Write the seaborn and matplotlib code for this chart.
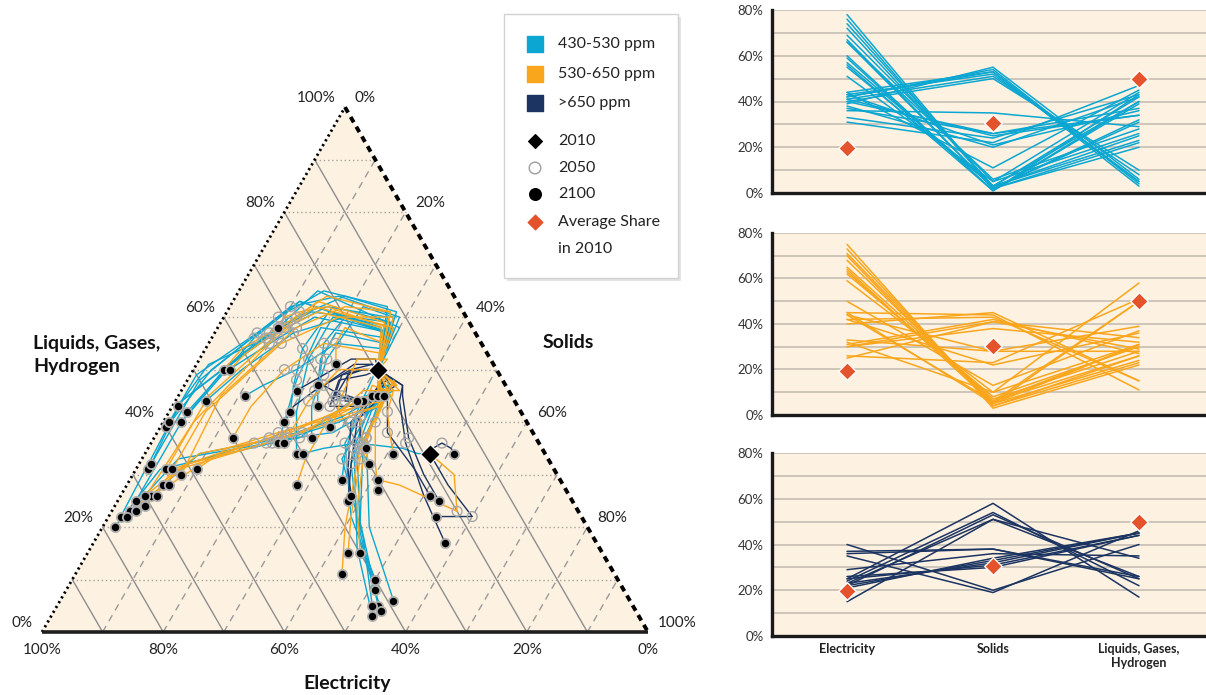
import numpy as np
import pandas as pd
import matplotlib
matplotlib.use("Agg")
import matplotlib.pyplot as plt
from matplotlib.patches import Polygon, Rectangle
import seaborn as sns

sns.set_style("white")
plt.rcParams["font.family"] = ["Lato", "DejaVu Sans"]

# ---------------------------------------------------------------- data
# shares in percent; solids = 100 - electricity - liquids
categories = ["Electricity", "Solids", "Liquids, Gases,\nHydrogen"]
avg_share_2010 = [19.5, 30.5, 50.0]

# two 2010 starting mixes (electricity, liquids)
base_2010_elec = [19.5, 19.0]
base_2010_liq = [50.0, 34.0]

# 430-530 ppm scenarios
blue_origin = [0] * 23 + [1] + [0] * 6
blue_2020_elec = [22, 12, 21, 14, 23, 11, 13, 22, 12, 15, 11, 13, 14, 13, 17, 19, 21, 18, 20, 19, 18, 21, 14, 21, 12, 16, 15, 19, 15, 13]
blue_2020_liq = [44, 58, 46, 57, 43, 60, 59, 45, 62, 58, 61, 60, 57, 58, 54, 46, 45, 48, 45, 47, 47, 45, 57, 34, 60, 55, 57, 50, 56, 59]
blue_2030_elec = [31, 22, 27, 26, 33, 19, 25, 30, 21, 26, 18, 22, 25, 20, 24, 21, 25, 18, 23, 22, 20, 24, 22, 23, 16, 23, 20, 18, 25, 21]
blue_2030_liq = [40, 65, 44, 63, 38, 64, 61, 41, 65, 63, 64, 62, 60, 60, 55, 45, 42, 48, 44, 46, 47, 44, 60, 35, 62, 57, 60, 52, 58, 62]
blue_2050_elec = [44, 32, 39, 37, 47, 28, 34, 42, 31, 36, 28, 35, 33, 30, 33, 31, 34, 29, 33, 31, 28, 32, 30, 30, 27, 28, 26, 27, 34, 30]
blue_2050_liq = [36, 58, 37, 56, 36, 62, 57, 37, 60, 57, 60, 56, 56, 57, 50, 34, 33, 36, 32, 35, 37, 36, 52, 36, 52, 52, 55, 42, 48, 54]
blue_2075_elec = [65, 55, 61, 57, 60, 50, 55, 57, 47, 50, 45, 47, 46, 42, 40, 38, 38, 37, 39, 40, 36, 38, 37, 36, 34, 31, 29, 33, 40, 35]
blue_2075_liq = [31, 44, 33, 40, 32, 48, 44, 34, 50, 49, 50, 51, 49, 50, 47, 19, 18, 21, 17, 16, 20, 22, 42, 35, 43, 47, 50, 34, 40, 47]
blue_2100_elec = [78, 76, 74, 72, 69, 67, 66, 66, 60, 59, 57, 56, 55, 51, 44, 42, 43, 41, 42, 44, 39, 40, 41, 40, 37, 33, 31, 36, 43, 38]
blue_2100_solids = [2, 2, 3, 3, 5, 2, 2, 6, 1, 1, 3, 1, 3, 5, 11, 53, 52, 51, 54, 53, 55, 50, 25, 26, 26, 24, 22, 35, 21, 20]
blue_2100_liq = [20, 22, 23, 25, 26, 31, 32, 28, 39, 40, 40, 43, 42, 44, 45, 5, 5, 8, 4, 3, 6, 10, 34, 34, 37, 43, 47, 29, 36, 42]

# 530-650 ppm scenarios
orange_origin = [0] * 17 + [1] + [0] * 7
orange_2020_elec = [22, 13, 23, 21, 12, 22, 14, 21, 12, 23, 17, 14, 12, 15, 19, 20, 18, 18, 18, 20, 19, 20, 18, 17, 16]
orange_2020_liq = [45, 58, 43, 46, 60, 44, 59, 46, 61, 43, 53, 58, 61, 58, 46, 45, 47, 32, 47, 46, 50, 46, 46, 52, 55]
orange_2030_elec = [29, 24, 32, 26, 21, 30, 23, 28, 19, 31, 26, 22, 21, 24, 20, 22, 19, 17, 18, 22, 26, 24, 19, 22, 21]
orange_2030_liq = [42, 62, 40, 44, 60, 42, 63, 43, 62, 41, 55, 62, 64, 61, 46, 44, 47, 30, 48, 47, 50, 46, 46, 52, 58]
orange_2050_elec = [41, 35, 45, 38, 33, 44, 31, 40, 29, 42, 35, 27, 30, 33, 30, 31, 28, 20, 25, 27, 34, 33, 22, 28, 24]
orange_2050_liq = [37, 55, 36, 38, 55, 37, 58, 38, 58, 38, 50, 61, 59, 57, 35, 33, 37, 23, 40, 41, 44, 40, 42, 45, 55]
orange_2075_elec = [60, 55, 62, 57, 52, 56, 50, 54, 48, 52, 44, 30, 40, 40, 40, 38, 36, 27, 29, 29, 39, 40, 24, 31, 25]
orange_2075_liq = [32, 40, 31, 34, 42, 33, 45, 34, 45, 35, 43, 60, 54, 53, 20, 22, 24, 28, 32, 36, 39, 33, 37, 41, 53]
orange_2100_elec = [75, 73, 71, 70, 68, 65, 64, 63, 62, 59, 50, 32, 45, 44, 45, 42, 40, 30, 31, 30, 42, 44, 25, 33, 26]
orange_2100_solids = [3, 4, 5, 4, 6, 7, 5, 6, 8, 10, 13, 10, 5, 6, 44, 43, 45, 41, 42, 38, 22, 28, 41, 28, 23]
orange_2100_liq = [22, 23, 24, 26, 26, 28, 31, 31, 30, 31, 37, 58, 50, 50, 11, 15, 15, 29, 27, 32, 36, 28, 34, 39, 51]

# >650 ppm scenarios
navy_origin = [1, 0, 1] + [0] * 12
navy_2020_elec = [18, 17, 19, 17, 18, 20, 19, 19, 20, 22, 21, 22, 20, 22, 19]
navy_2020_liq = [34, 47, 31, 47, 47, 51, 52, 48, 47, 50, 50, 49, 51, 50, 47]
navy_2030_elec = [18, 19, 19, 18, 20, 24, 23, 21, 22, 26, 24, 27, 23, 25, 20]
navy_2030_liq = [35, 44, 28, 45, 46, 50, 52, 47, 46, 49, 50, 48, 51, 49, 46]
navy_2050_elec = [16, 22, 18, 21, 24, 32, 29, 28, 29, 30, 29, 31, 30, 28, 27]
navy_2050_liq = [36, 36, 22, 37, 38, 46, 49, 40, 40, 44, 45, 43, 47, 44, 41]
navy_2075_elec = [15, 24, 21, 22, 23, 37, 33, 33, 34, 27, 26, 25, 28, 24, 29]
navy_2075_liq = [35, 26, 22, 30, 31, 43, 47, 32, 31, 45, 44, 43, 45, 44, 37]
navy_2100_elec = [15, 25, 24, 22, 23, 40, 35, 37, 36, 25, 23, 22, 26, 21, 29]
navy_2100_solids = [51, 58, 54, 53, 51, 20, 19, 38, 38, 31, 32, 33, 30, 34, 36]
navy_2100_liq = [34, 17, 22, 25, 26, 40, 46, 25, 26, 44, 45, 45, 44, 45, 35]

group_labels = ["430-530 ppm", "530-650 ppm", ">650 ppm"]
group_colors = ["#0BA7D2", "#F9A61C", "#1B3462"]

# ---------------------------------------------------------------- helpers
W, H = 1206, 695
BEIGE = "#FDF1E1"
SQ3 = np.sqrt(3) / 2


def to_xy(elec, liq):
    e = np.asarray(elec, dtype=float) / 100
    l = np.asarray(liq, dtype=float) / 100
    return 1 - e - l / 2, l * SQ3


def paths_frame(g):
    rows = []
    for i in range(len(g["e100"])):
        o = g["origin"][i]
        pts = [(base_2010_elec[o], base_2010_liq[o]),
               (g["e20"][i], g["l20"][i]), (g["e30"][i], g["l30"][i]),
               (g["e50"][i], g["l50"][i]), (g["e75"][i], g["l75"][i]),
               (g["e100"][i], g["l100"][i])]
        for step, (e, l) in enumerate(pts):
            x, y = to_xy(e, l)
            rows.append({"run": i, "step": step, "x": float(x), "y": float(y)})
    return pd.DataFrame(rows)


def shares_frame(e, s, l):
    rows = []
    for i in range(len(e)):
        for c, v in enumerate((e[i], s[i], l[i])):
            rows.append({"run": i, "cat": c, "share": v})
    return pd.DataFrame(rows)


groups = [
    dict(origin=blue_origin, e20=blue_2020_elec, l20=blue_2020_liq, e30=blue_2030_elec, l30=blue_2030_liq,
         e50=blue_2050_elec, l50=blue_2050_liq, e75=blue_2075_elec, l75=blue_2075_liq,
         e100=blue_2100_elec, s100=blue_2100_solids, l100=blue_2100_liq),
    dict(origin=orange_origin, e20=orange_2020_elec, l20=orange_2020_liq, e30=orange_2030_elec, l30=orange_2030_liq,
         e50=orange_2050_elec, l50=orange_2050_liq, e75=orange_2075_elec, l75=orange_2075_liq,
         e100=orange_2100_elec, s100=orange_2100_solids, l100=orange_2100_liq),
    dict(origin=navy_origin, e20=navy_2020_elec, l20=navy_2020_liq, e30=navy_2030_elec, l30=navy_2030_liq,
         e50=navy_2050_elec, l50=navy_2050_liq, e75=navy_2075_elec, l75=navy_2075_liq,
         e100=navy_2100_elec, s100=navy_2100_solids, l100=navy_2100_liq),
]

fig = plt.figure(figsize=(W / 100, H / 100), dpi=100)

# ---------------------------------------------------------------- ternary diagram
ax = fig.add_axes([0, 0, 660 / W, 1])
x0, y0 = -42 / 606, -63 / 606
ax.set_xlim(x0, x0 + 660 / 606)
ax.set_ylim(y0, y0 + H / 606)
ax.axis("off")

ax.add_patch(Polygon([(0, 0), (1, 0), (0.5, SQ3)], closed=True, fc=BEIGE, ec="none", zorder=0))

for v in range(10, 100, 10):
    # constant liquids (dotted, horizontal)
    xa, ya = to_xy(100 - v, v)
    xb, yb = to_xy(0, v)
    ax.plot([xa, xb], [ya, yb], color="#a3a3a3", lw=1.0, ls=(0, (1, 2)), zorder=1)
    # constant electricity (solid)
    xa, ya = to_xy(v, 0)
    xb, yb = to_xy(v, 100 - v)
    ax.plot([xa, xb], [ya, yb], color="#8e8e8e", lw=1.0, zorder=1)
    # constant solids (dashed)
    xa, ya = to_xy(100 - v, 0)
    xb, yb = to_xy(0, 100 - v)
    ax.plot([xa, xb], [ya, yb], color="#9a9a9a", lw=1.0, ls=(0, (5, 4)), zorder=1)

# triangle edges
ax.plot([0, 0.5], [0, SQ3], color="black", lw=2.0, ls=(0, (0.8, 1.2)), zorder=2)
ax.plot([0.5, 1], [SQ3, 0], color="black", lw=2.8, ls=(0, (1.6, 1.3)), zorder=2)
ax.plot([0, 1], [0, 0], color="#1e1e1e", lw=2.6, zorder=2, solid_capstyle="butt")

# scenario paths
for order, gi in enumerate([0, 2, 1]):
    df = paths_frame(groups[gi])
    sns.lineplot(data=df, x="x", y="y", units="run", estimator=None, sort=False,
                 color=group_colors[gi], lw=1.0, ax=ax, legend=False, zorder=3 + order)

ax.set_xlabel("")
ax.set_ylabel("")

for g in groups:
    x50, y50 = to_xy(g["e50"], g["l50"])
    ax.scatter(x50, y50, s=50, facecolors="none", edgecolors="#a6a6a6", linewidths=1.0, zorder=7)
for g in groups:
    x100, y100 = to_xy(g["e100"], g["l100"])
    ax.scatter(x100, y100, s=44, color="black", edgecolors="#b0b0b0", linewidths=1.3, zorder=8)

xb, yb = to_xy(base_2010_elec, base_2010_liq)
ax.scatter(xb, yb, marker="D", s=100, color="black", edgecolors="white", linewidths=0.8, zorder=9)

# axis tick labels
for k in range(0, 101, 20):
    x, y = to_xy(100 - k, k)
    ax.annotate(f"{k}%", (x, y), xytext=(-9, 9), textcoords="offset pixels",
                ha="right", va="center", fontsize=11, color="#222222")
    x, y = to_xy(0, 100 - k)
    ax.annotate(f"{k}%", (x, y), xytext=(10, 9), textcoords="offset pixels",
                ha="left", va="center", fontsize=11, color="#222222")
    x, y = to_xy(k, 0)
    ax.annotate(f"{k}%", (x, y), xytext=(0, -18), textcoords="offset pixels",
                ha="center", va="center", fontsize=11, color="#222222")

fig.text(33 / W, 1 - 355 / H, "Liquids, Gases,\nHydrogen", ha="left", va="center",
         fontsize=14, fontweight="bold", linespacing=1.45, color="#111111")
fig.text(568 / W, 1 - 343 / H, "Solids", ha="center", va="center",
         fontsize=14, fontweight="bold", color="#111111")
fig.text(347 / W, 1 - 683 / H, "Electricity", ha="center", va="center",
         fontsize=14, fontweight="bold", color="#111111")

# ---------------------------------------------------------------- legend box
lax = fig.add_axes([504 / W, 1 - 278 / H, 174 / W, 264 / H])
lax.set_xlim(0, 174)
lax.set_ylim(264, 0)
lax.axis("off")
lax.add_patch(Rectangle((3, 3), 174, 264, fc="#e3e3e3", ec="none", clip_on=False, zorder=0))
lax.add_patch(Rectangle((0, 0), 174, 264, fc="white", ec="#d2d2d2", lw=1.0, clip_on=False, zorder=1))
legend_rows = [30, 60, 89, 127, 154, 180, 208]
for yy, lab, col in zip(legend_rows[:3], group_labels, group_colors):
    lax.scatter([31], [yy], marker="s", s=120, color=col, zorder=2)
    lax.text(54, yy, lab, ha="left", va="center", fontsize=11.5, color="#222222", zorder=2)
lax.scatter([31], [legend_rows[3]], marker="D", s=48, color="black", zorder=2)
lax.scatter([31], [legend_rows[4]], s=70, facecolors="none", edgecolors="#9e9e9e", linewidths=1.0, zorder=2)
lax.scatter([31], [legend_rows[5]], s=70, color="black", zorder=2)
lax.scatter([31], [legend_rows[6]], marker="D", s=55, color="#E4532B", zorder=2)
for yy, lab in zip(legend_rows[3:], ["2010", "2050", "2100", "Average Share"]):
    lax.text(54, yy, lab, ha="left", va="center", fontsize=11.5, color="#222222", zorder=2)
lax.text(54, 235, "in 2010", ha="left", va="center", fontsize=11.5, color="#222222", zorder=2)

# ---------------------------------------------------------------- 2100 share panels
panel_bounds = [(10, 193), (233, 415), (453, 636)]
for gi, (top, bottom) in enumerate(panel_bounds):
    g = groups[gi]
    pax = fig.add_axes([772 / W, 1 - bottom / H, (W - 772) / W, (bottom - top) / H])
    pax.set_facecolor(BEIGE)
    df = shares_frame(g["e100"], g["s100"], g["l100"])
    sns.lineplot(data=df, x="cat", y="share", units="run", estimator=None,
                 color=group_colors[gi], lw=1.1, ax=pax, legend=False, zorder=3)
    pax.scatter(range(3), avg_share_2010, marker="D", s=80, color="#E4532B",
                edgecolors="white", linewidths=1.0, zorder=5, clip_on=False)
    pax.set_xlim(-0.514, 2.459)
    pax.set_ylim(0, 80)
    pax.set_yticks(range(0, 81, 10))
    pax.set_yticklabels([f"{v}%" if v % 20 == 0 else "" for v in range(0, 81, 10)])
    pax.yaxis.grid(True, color="#cbc2b8", lw=1.3)
    pax.set_axisbelow(True)
    pax.tick_params(axis="y", length=0, pad=6, labelsize=9.5, labelcolor="#333333")
    pax.set_xticks(range(3))
    if gi == 2:
        pax.set_xticklabels(categories, fontsize=9, fontweight="bold", color="#222222")
        pax.tick_params(axis="x", length=0, pad=5)
    else:
        pax.set_xticklabels([])
        pax.tick_params(axis="x", length=0)
    for side in ("top", "right"):
        pax.spines[side].set_visible(False)
    for side in ("left", "bottom"):
        pax.spines[side].set_color("#1a1a1a")
        pax.spines[side].set_linewidth(2.4)
    pax.set_xlabel("")
    pax.set_ylabel("")

fig.savefig("out.png", dpi=100)
